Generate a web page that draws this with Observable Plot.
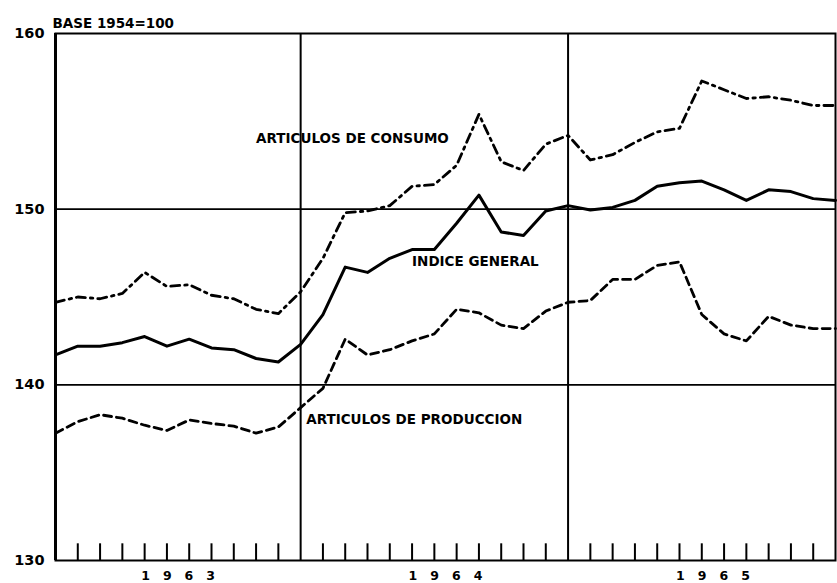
<!DOCTYPE html>
<html><head><meta charset="utf-8">
<script src="https://cdn.jsdelivr.net/npm/d3@7"></script>
<script src="https://cdn.jsdelivr.net/npm/@observablehq/plot@0.6"></script>
<style>
body{margin:0;background:#fff}
svg{font-family:"DejaVu Sans",sans-serif}
</style>
</head><body><div id="chart"></div>
<script>
// Month index: 0 = Jan 1963 ... 35 = Dec 1965
const months = [0,1,2,3,4,5,6,7,8,9,10,11,12,13,14,15,16,17,18,19,20,21,22,23,24,25,26,27,28,29,30,31,32,33,34,35];
const years = ["1963", "1964", "1965"];
const yearCenters = [5.5, 17.5, 29.5];
const yearEnds = [11, 23];
const yTicks = [130, 140, 150, 160];
const gridY = [140, 150];

const consumo = [144.7, 145.0, 144.9, 145.2, 146.4, 145.6, 145.7, 145.1, 144.9, 144.3, 144.05, 145.3,
                 147.2, 149.8, 149.9, 150.2, 151.3, 151.4, 152.5, 155.4, 152.7, 152.2, 153.7, 154.2,
                 152.8, 153.1, 153.8, 154.4, 154.6, 157.3, 156.8, 156.3, 156.4, 156.2, 155.9, 155.9];
const general = [141.7, 142.2, 142.2, 142.4, 142.75, 142.2, 142.6, 142.1, 142.0, 141.5, 141.3, 142.3,
                 144.0, 146.7, 146.4, 147.2, 147.7, 147.7, 149.2, 150.8, 148.7, 148.5, 149.9, 150.2,
                 149.95, 150.1, 150.5, 151.3, 151.5, 151.6, 151.1, 150.5, 151.1, 151.0, 150.6, 150.5];
const produccion = [137.25, 137.9, 138.3, 138.1, 137.7, 137.4, 138.0, 137.8, 137.65, 137.25, 137.6, 138.7,
                    139.8, 142.6, 141.7, 142.0, 142.5, 142.9, 144.3, 144.1, 143.4, 143.2, 144.2, 144.7,
                    144.8, 146.0, 146.0, 146.8, 147.0, 144.0, 142.9, 142.5, 143.9, 143.4, 143.2, 143.2];

const seriesLabels = ["ARTICULOS DE CONSUMO", "INDICE GENERAL", "ARTICULOS DE PRODUCCION"];
const baseNote = "BASE 1954=100";

const monthTicks = months.filter(m => m !== 0 && m !== 35 && !yearEnds.includes(m));
const toRows = vals => months.map((m, i) => ({m, v: vals[i]}));

// label anchors, in data units (month index, index value)
const labelAnchors = [
  {text: seriesLabels[0], m: 9.0, v: 154.0},
  {text: seriesLabels[1], m: 16.0, v: 147.0},
  {text: seriesLabels[2], m: 11.25, v: 138.0}
];

const chart = Plot.plot({
  width: 837,
  height: 583,
  marginLeft: 55,
  marginRight: 2,
  marginTop: 33,
  marginBottom: 23,
  style: {background: "#fff", color: "#000", overflow: "visible"},
  x: {domain: [0, 35]},
  y: {domain: [130, 160]},
  marks: [
    Plot.ruleY(gridY, {stroke: "#000", strokeWidth: 1.6}),
    Plot.ruleX(yearEnds, {stroke: "#000", strokeWidth: 2}),
    Plot.ruleX(monthTicks, {y1: 130, y2: 130.95, stroke: "#000", strokeWidth: 2}),
    Plot.frame({stroke: "#000", strokeWidth: 2}),
    Plot.ruleX([0], {stroke: "#000", strokeWidth: 3}),
    Plot.line(toRows(consumo), {x: "m", y: "v", stroke: "#000", strokeWidth: 2.8, strokeDasharray: "9,5,2.5,5", strokeLinejoin: "round"}),
    Plot.line(toRows(general), {x: "m", y: "v", stroke: "#000", strokeWidth: 3, strokeLinejoin: "round"}),
    Plot.line(toRows(produccion), {x: "m", y: "v", stroke: "#000", strokeWidth: 2.8, strokeDasharray: "8,5", strokeLinejoin: "round"}),
    Plot.text(labelAnchors, {x: "m", y: "v", text: "text", textAnchor: "start", lineAnchor: "middle",
      fontSize: 13.5, fontWeight: "bold", fill: "#000"}),
    Plot.text([baseNote], {x: 0, y: 160, text: d => d, textAnchor: "start", lineAnchor: "bottom",
      dx: -3, dy: -6, fontSize: 13.5, fill: "#000", fontWeight: "bold"}),
    Plot.axisY(yTicks, {tickSize: 0, tickPadding: 11, fontSize: 14.5, fontWeight: "bold", label: null, tickFormat: d => String(d)}),
    Plot.axisX(yearCenters, {tickSize: 0, tickPadding: 11, fontSize: 12.5, fontWeight: "bold", label: null,
      tickFormat: (d, i) => years[i]})
  ]
});

d3.select(chart).selectAll("g[aria-label='x-axis tick label'] text")
  .attr("letter-spacing", 13)
  .attr("dx", 6.5);

document.getElementById("chart").appendChild(chart);
</script>
</body></html>
